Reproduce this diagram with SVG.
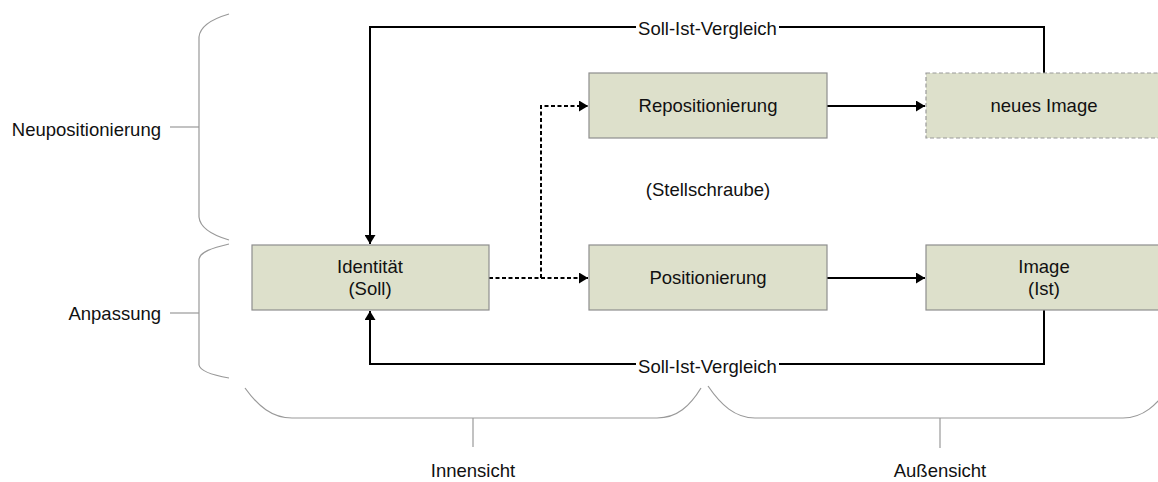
<svg xmlns="http://www.w3.org/2000/svg" width="1158" height="482" viewBox="0 0 1158 482">
<style>
text{font-family:"Liberation Sans",Arial,sans-serif;font-size:18.5px;fill:#111}
.box{fill:#dde0cb;stroke:#8e8e8e;stroke-width:1.2}
.dbox{fill:#dde0cb;stroke:#999;stroke-width:1.2;stroke-dasharray:4 2.5}
.c{fill:none;stroke:#000;stroke-width:2}
.d{fill:none;stroke:#000;stroke-width:2;stroke-dasharray:4 2.5}
.br{fill:none;stroke:#999;stroke-width:1.2}
</style>
<defs>
<marker id="ah" viewBox="0 0 10 10" refX="10" refY="5" markerWidth="4.5" markerHeight="5.5" orient="auto" markerUnits="strokeWidth" preserveAspectRatio="none">
<path d="M0,0 L10,5 L0,10 Z" fill="#000"/>
</marker>
</defs>
<rect width="1158" height="482" fill="#fff"/>
<g id="braces">
<path class="br" d="M229,14 C212,19 200,27 199,37 L199,217 C200,228 212,235 229,240"/>
<path class="br" d="M170,127 L199,127"/>
<path class="br" d="M229,244 C212,248 200,252 199,259 L199,365 C200,371 212,375 229,378"/>
<path class="br" d="M170,313 L199,313"/>
<path class="br" d="M245,388 C258,406 272,418 292,418 L657,418 C677,418 690,406 701,388"/>
<path class="br" d="M473,418 L473,447"/>
<path class="br" d="M708,386 C721,405 735,418 755,418 L1123,418 C1143,418 1157,405 1170,386"/>
<path class="br" d="M940,418 L940,448"/>
</g>
<g id="side-labels">
<text x="161" y="136" text-anchor="end">Neupositionierung</text>
<text x="161" y="320" text-anchor="end">Anpassung</text>
<text x="473" y="477" text-anchor="middle">Innensicht</text>
<text x="940" y="477" text-anchor="middle">Außensicht</text>
<text x="708" y="196" text-anchor="middle">(Stellschraube)</text>
</g>
<g id="connectors">
<path class="c" d="M1044,73 L1044,27 L370,27 L370,244" marker-end="url(#ah)"/>
<path class="c" d="M1044,310 L1044,364 L370,364 L370,311" marker-end="url(#ah)"/>
<path class="c" d="M827,106 L925,106" marker-end="url(#ah)"/>
<path class="c" d="M827,278 L925,278" marker-end="url(#ah)"/>
<path class="d" d="M489,278 L588,278" marker-end="url(#ah)"/>
<path class="d" d="M541,278 L541,106 L588,106" marker-end="url(#ah)"/>
<rect x="636" y="15" width="143" height="22" fill="#fff"/>
<text x="707.5" y="35" text-anchor="middle">Soll-Ist-Vergleich</text>
<rect x="636" y="353" width="143" height="22" fill="#fff"/>
<text x="707.5" y="373" text-anchor="middle">Soll-Ist-Vergleich</text>
</g>
<g id="identitaet">
<rect class="box" x="252" y="245" width="237" height="65"/>
<text x="370" y="273" text-anchor="middle">Identität</text>
<text x="370" y="295" text-anchor="middle">(Soll)</text>
</g>
<g id="repositionierung">
<rect class="box" x="589" y="73" width="238" height="65"/>
<text x="708" y="112" text-anchor="middle">Repositionierung</text>
</g>
<g id="positionierung">
<rect class="box" x="589" y="245" width="238" height="65"/>
<text x="708" y="284" text-anchor="middle">Positionierung</text>
</g>
<g id="neues-image">
<rect class="dbox" x="926" y="73" width="238" height="65"/>
<text x="1044" y="112" text-anchor="middle">neues Image</text>
</g>
<g id="image">
<rect class="box" x="926" y="245" width="238" height="65"/>
<text x="1044" y="273" text-anchor="middle">Image</text>
<text x="1044" y="295" text-anchor="middle">(Ist)</text>
</g>
</svg>
